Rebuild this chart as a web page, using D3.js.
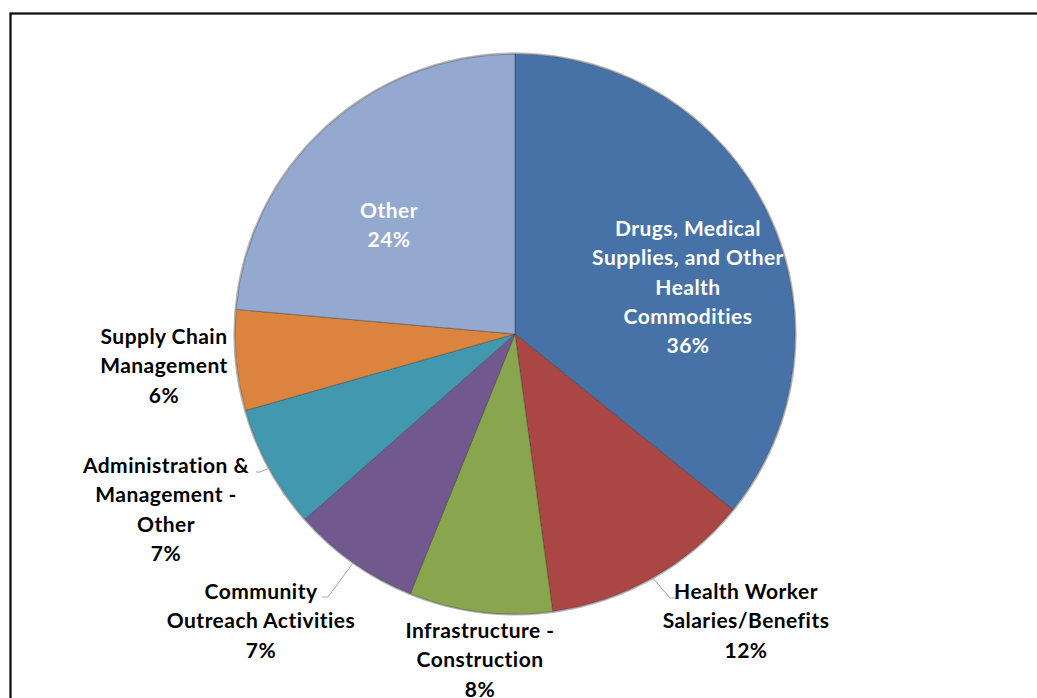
<!DOCTYPE html>
<html>
<head>
<meta charset="utf-8">
<script src="https://cdn.jsdelivr.net/npm/d3@7/dist/d3.min.js"></script>
<style>
  html, body { margin: 0; padding: 0; background: #fff; overflow: hidden; }
  svg { display: block; }
  text { font-family: Lato, "Open Sans", sans-serif; font-weight: bold; font-size: 21px; letter-spacing: 0.45px; }
</style>
</head>
<body>
<svg id="chart" width="1037" height="698"></svg>
<script>
// Spending shares by category (percent), clockwise from 12 o'clock
const categories = [
  "Drugs, Medical Supplies, and Other Health Commodities",
  "Health Worker Salaries/Benefits",
  "Infrastructure - Construction",
  "Community Outreach Activities",
  "Administration & Management - Other",
  "Supply Chain Management",
  "Other"
];
const shares = [35.8, 12.05, 8.25, 7.4, 7.1, 5.8, 23.6];
const colors = ["#4672A8", "#AA4644", "#89A54E", "#71588F", "#4198AF", "#DB843D", "#93A9CF"];

// Label text split into lines, with anchor point and colour
const labelLines = [
  ["Drugs, Medical", "Supplies, and Other", "Health", "Commodities"],
  ["Health Worker", "Salaries/Benefits"],
  ["Infrastructure -", "Construction"],
  ["Community", "Outreach Activities"],
  ["Administration &", "Management -", "Other"],
  ["Supply Chain", "Management"],
  ["Other"]
];
const labelAnchors = [[688, 229], [746, 592], [480, 631], [261, 592], [166, 466], [164, 337], [389, 211]];
const labelInside = [true, false, false, false, false, false, true];
// Leader lines for the outside labels: [label end x, label end y, elbow x]
const leaders = { 1: [676, 598, 670], 3: [322, 597, 328], 4: [256, 472, 260] };

const svg = d3.select("#chart");
const cx = 515, cy = 334, r = 280;
const lineH = 29.3;

// Frame
svg.append("rect")
  .attr("x", 10.5).attr("y", 13.5)
  .attr("width", 1100).attr("height", 800)
  .attr("fill", "none").attr("stroke", "#111").attr("stroke-width", 2.3);

const data = categories.map((c, i) => ({ name: c, value: shares[i], i }));
const pie = d3.pie().value(d => d.value).sort(null);
const arcs = pie(data);
const arc = d3.arc().innerRadius(0).outerRadius(r);

const g = svg.append("g").attr("transform", `translate(${cx},${cy})`);

// Soft rim around the pie
g.append("circle").attr("r", r + 0.8)
  .attr("fill", "none").attr("stroke", "#b5b5b5").attr("stroke-width", 1.6);

g.selectAll("path.slice").data(arcs).enter().append("path")
  .attr("class", "slice")
  .attr("d", arc)
  .attr("fill", d => colors[d.data.i])
  .attr("stroke", "rgba(40,40,40,0.45)")
  .attr("stroke-width", 0.8);

// Leader lines
Object.keys(leaders).forEach(k => {
  const a = arcs[+k];
  const mid = (a.startAngle + a.endAngle) / 2;
  const px = cx + r * Math.sin(mid), py = cy - r * Math.cos(mid);
  const [lx, ly, ex] = leaders[k];
  svg.append("polyline")
    .attr("points", `${lx},${ly} ${ex},${ly} ${px},${py}`)
    .attr("fill", "none").attr("stroke", "#a6a6a6").attr("stroke-width", 1);
});

// Labels: name lines followed by rounded percentage
arcs.forEach((a, i) => {
  const lines = labelLines[i].concat([Math.round(a.data.value) + "%"]);
  const [x, y] = labelAnchors[i];
  const t = svg.append("text")
    .attr("text-anchor", "middle")
    .attr("fill", labelInside[i] ? "#ffffff" : "#000000");
  lines.forEach((ln, j) => {
    t.append("tspan").attr("x", x).attr("y", y + j * lineH + 7).text(ln);
  });
});
</script>
</body>
</html>
